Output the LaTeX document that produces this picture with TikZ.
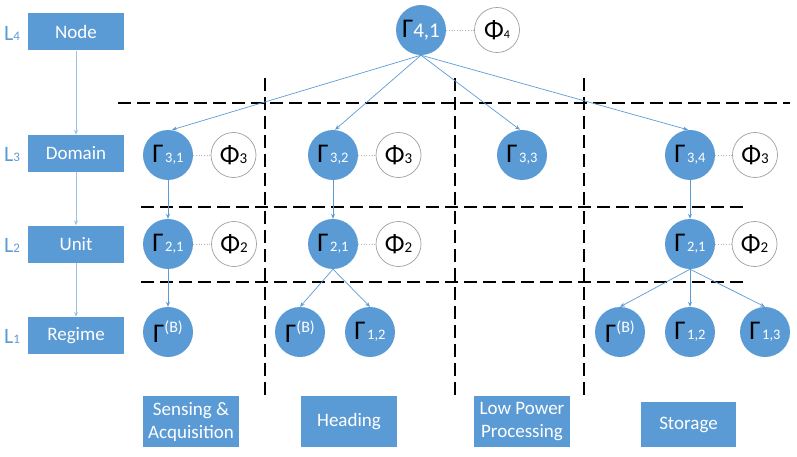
\documentclass[tikz,border=0pt]{standalone}
\usepackage{fontspec}
\setmainfont{Carlito}
\usetikzlibrary{arrows.meta}
\definecolor{obox}{HTML}{5B9BD5}
\definecolor{olight}{HTML}{9DC3E6}
\newcommand{\Gsub}[1]{{\fontsize{27}{27}\selectfont\textcolor{black}{Γ}}\hspace{1.5pt}{\fontsize{14.5}{14.5}\selectfont\textcolor{white}{#1}}}
\newcommand{\Gbig}[1]{{\fontsize{27}{27}\selectfont\textcolor{black}{Γ}}{\fontsize{21}{21}\selectfont\textcolor{white}{#1}}}
\newcommand{\GsupB}{{\fontsize{27}{27}\selectfont\textcolor{black}{Γ}}\raisebox{10pt}{\fontsize{16}{16}\selectfont\textcolor{white}{(B)}}}
\newcommand{\Phisub}[2]{{\fontsize{26}{26}\selectfont Φ}{\fontsize{#2}{#2}\selectfont #1}}
\newcommand{\Lev}[1]{{\fontsize{22}{22}\selectfont L}{\fontsize{13}{13}\selectfont #1}}
\begin{document}
\begin{tikzpicture}[x=1pt,y=-1pt,
 box/.style={fill=obox,text=white,inner sep=0pt,font=\fontsize{19}{23}\selectfont,align=center},
 lbox/.style={box,minimum width=96pt,minimum height=37pt},
 bbox/.style={box,minimum width=96pt,minimum height=51pt},
 gam/.style={circle,fill=obox,minimum size=50pt,inner sep=0pt},
 phi/.style={circle,draw=gray!75,fill=white,minimum size=45pt,inner sep=0pt,line width=0.7pt},
 link/.style={draw=gray!60,dotted,line width=0.7pt},
 arr/.style={draw=obox,line width=0.7pt,-{Stealth[length=5pt,width=4pt]}},
 larr/.style={draw=olight,line width=0.9pt,-{Stealth[length=5pt,width=4pt]}},
 sep/.style={draw=black,line width=1.6pt,dash pattern=on 13pt off 6pt},
 lvl/.style={text=obox,inner sep=0pt,anchor=west}
]
\useasboundingbox (0,0) rectangle (797,457);
% separators
\draw[sep] (118,103) -- (790,103);
\draw[sep] (141,207) -- (745,207);
\draw[sep] (141,282) -- (745,282);
\draw[sep] (265,78) -- (265,395);
\draw[sep] (455,78) -- (455,395);
\draw[sep] (584,78) -- (584,395);
% left column
\node[lbox] (node) at (76,32) {Node};
\node[lbox] (domain) at (76,153.5) {Domain};
\node[lbox] (unit) at (76,244) {Unit};
\node[lbox] (regime) at (76,335.5) {Regime};
\node[lvl] (l4) at (4,33) {\Lev{4}};
\node[lvl] (l3) at (4,154.5) {\Lev{3}};
\node[lvl] (l2) at (4,245) {\Lev{2}};
\node[lvl] (l1) at (4,336.5) {\Lev{1}};
\draw[larr] (node) -- (domain);
\draw[larr] (domain) -- (unit);
\draw[larr] (unit) -- (regime);
% top
\node[gam] (g41) at (421,30) {\Gbig{4,1}};
\node[phi] (p4) at (497,30) {\Phisub{4}{12}};
% domain row
\node[gam] (g31) at (168,155) {\Gsub{3,1}};
\node[phi] (p31) at (233.5,155) {\Phisub{3}{15}};
\node[gam] (g32) at (333,155) {\Gsub{3,2}};
\node[phi] (p32) at (398.5,155) {\Phisub{3}{15}};
\node[gam] (g33) at (522,155) {\Gsub{3,3}};
\node[gam] (g34) at (690,155) {\Gsub{3,4}};
\node[phi] (p34) at (755,155) {\Phisub{3}{15}};
% unit row
\node[gam] (g21a) at (168,244) {\Gsub{2,1}};
\node[phi] (p21a) at (234,244) {\Phisub{2}{15}};
\node[gam] (g21b) at (333,244) {\Gsub{2,1}};
\node[phi] (p21b) at (398.5,244) {\Phisub{2}{15}};
\node[gam] (g21c) at (690,244) {\Gsub{2,1}};
\node[phi] (p21c) at (754.5,244) {\Phisub{2}{15}};
% regime row
\node[gam] (ga) at (168,332) {\GsupB};
\node[gam] (gb) at (300,332) {\GsupB};
\node[gam] (g12b) at (370,332) {\Gsub{1,2}};
\node[gam] (gc) at (620,332) {\GsupB};
\node[gam] (g12c) at (690,332) {\Gsub{1,2}};
\node[gam] (g13c) at (765,332) {\Gsub{1,3}};
% bottom labels
\node[bbox] (s1) at (191,421.5) {Sensing \&\\Acquisition};
\node[bbox] (s2) at (349,421.5) {Heading};
\node[bbox] (s3) at (522,421.5) {Low Power\\Processing};
\node[box,minimum width=95pt,minimum height=45pt] (s4) at (688.5,424.5) {Storage};
% dotted links
\draw[link] (g41) -- (p4);
\draw[link] (g31) -- (p31);
\draw[link] (g32) -- (p32);
\draw[link] (g34) -- (p34);
\draw[link] (g21a) -- (p21a);
\draw[link] (g21b) -- (p21b);
\draw[link] (g21c) -- (p21c);
% tree arrows
\draw[arr] (g41.south) -- ([xshift=4pt]g31.north);
\draw[arr] (g41.south) -- ([xshift=2pt]g32.north);
\draw[arr] (g41.south) -- ([xshift=-2pt]g33.north);
\draw[arr] (g41.south) -- ([xshift=-2pt]g34.north);
\draw[arr] (g31) -- (g21a);
\draw[arr] (g32) -- (g21b);
\draw[arr] (g34) -- (g21c);
\draw[arr] (g21a) -- (ga);
\draw[arr] (g21b.south) -- (gb.north);
\draw[arr] (g21b.south) -- (g12b.north);
\draw[arr] (g21c.south) -- (gc.north);
\draw[arr] (g21c.south) -- (g12c.north);
\draw[arr] (g21c.south) -- (g13c.north);
\end{tikzpicture}
\end{document}
